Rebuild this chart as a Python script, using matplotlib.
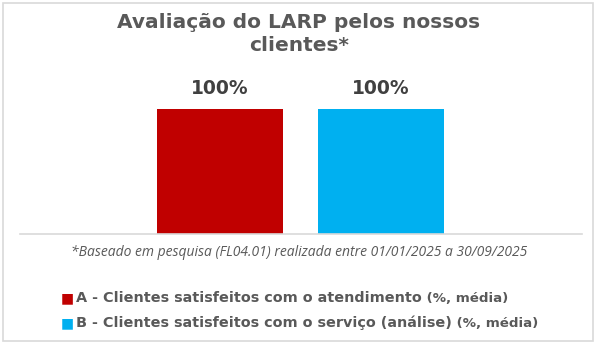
import matplotlib
matplotlib.use("Agg")
import matplotlib.pyplot as plt
from matplotlib.patches import Rectangle

categories = ['A', 'B']
values = [100, 100]
colors = ['#C00000', '#00B0F0']
legend_main = ['A - Clientes satisfeitos com o atendimento',
               'B - Clientes satisfeitos com o serviço (análise)']
legend_unit = '(%, média)'
title = 'Avaliação do LARP pelos nossos\nclientes*'
footnote = '*Baseado em pesquisa (FL04.01) realizada entre 01/01/2025 a 30/09/2025'

W, H = 598, 346
fig = plt.figure(figsize=(W / 100, H / 100), dpi=100)

# chart border
fig.patches.append(Rectangle((3 / W, 5 / H), 590 / W, 338 / H, transform=fig.transFigure,
                             fill=False, edgecolor='#D9D9D9', linewidth=1.2))

# axes: baseline at y=234 px, spans x 20..582 px
ax = fig.add_axes([20 / W, (H - 234) / H, 562 / W, 150 / H])
x = range(len(categories))
bars = ax.bar(x, values, width=0.783, color=colors)
ax.set_xlim(-1.242, 2.248)
ax.set_ylim(0, 120)
for s in ['top', 'right', 'left']:
    ax.spines[s].set_visible(False)
ax.spines['bottom'].set_color('#D9D9D9')
ax.spines['bottom'].set_linewidth(1.2)
ax.set_xticks([])
ax.set_yticks([])

for b, v in zip(bars, values):
    ax.annotate(f'{v}%', (b.get_x() + b.get_width() / 2, v), xytext=(0, 8),
                textcoords='offset points', ha='center', va='bottom',
                fontsize=13.5, fontweight='bold', color='#404040', family='DejaVu Sans')

fig.text(0.5, (H - 34) / H, title, ha='center', va='center', fontsize=14.5,
         fontweight='bold', color='#595959', linespacing=1.25, family='DejaVu Sans')

fig.text(0.5, (H - 253) / H, footnote, ha='center', va='center', fontsize=10,
         style='italic', color='#595959', family='Open Sans')

# legend rows
ys = [298, 323]
for c, main, y in zip(colors, legend_main, ys):
    fig.text(61 / W, (H - y) / H, '■', ha='left', va='center', fontsize=10,
             color=c, family='DejaVu Sans')
    t = fig.text(76 / W, (H - y) / H, main, ha='left', va='center', fontsize=10.4,
                 fontweight='bold', color='#595959', family='DejaVu Sans')
    ax.annotate(' ' + legend_unit, xy=(1, 0), xycoords=t, ha='left', va='bottom',
                fontsize=9.6, fontweight='bold', color='#595959', family='DejaVu Sans',
                annotation_clip=False)

fig.savefig('out.png', dpi=100)
